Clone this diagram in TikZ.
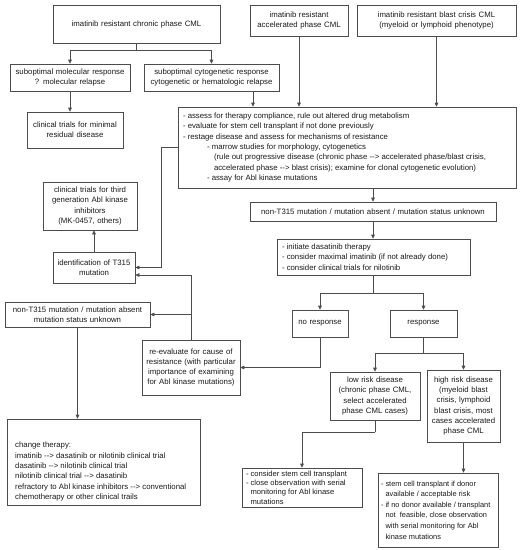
\documentclass[tikz,border=0pt]{standalone}
\usepackage{fontspec}
\setmainfont{Liberation Sans}
\usetikzlibrary{arrows.meta,calc}
\definecolor{lncol}{gray}{0.3}
\definecolor{txcol}{gray}{0.1}
\newcommand{\fsz}{\fontsize{7.8}{10.3}\selectfont}
\newcommand{\hg}{\hphantom{-~}}
\newcommand{\ar}{-{}-{}>}
\begin{document}
\begin{tikzpicture}[x=1pt,y=-1pt,
  bx/.style={draw=lncol, line width=0.6pt, inner xsep=3pt, inner ysep=0pt, font=\fsz, text=txcol, align=center},
  lbx/.style={bx, inner xsep=5pt, align=flush left},
  arr/.style={draw=lncol, line width=0.6pt, -{Triangle[length=4pt,width=3.6pt]}},
  cn/.style={draw=lncol, line width=0.6pt}]
\useasboundingbox (0,0) rectangle (520,550);

% top row
\node[bx, text width=161, minimum height=38] (chronic) at (136.5,24) {imatinib resistant chronic phase CML};
\node[bx, text width=92, minimum height=31] (accel) at (299,20.5) {imatinib resistant\\accelerated phase CML};
\node[bx, text width=153, minimum height=31] (blast) at (436.5,20.5) {imatinib resistant blast crisis CML\\(myeloid or lymphoid phenotype)};

\node[bx, text width=114, minimum height=27] (molec) at (70,77.5) {suboptimal molecular response\\? molecular relapse};
\node[bx, text width=129, minimum height=27] (cyto) at (211.5,77.5) {suboptimal cytogenetic response\\cytogenetic or hematologic relapse};
\node[bx, text width=90, minimum height=36] (minres) at (75,130) {clinical trials for minimal\\residual disease};

\node[lbx, text width=328, minimum height=81] (big) at (347,147.5) {- assess for therapy compliance, rule out altered drug metabolism\\
- evaluate for stem cell transplant if not done previously\\
- restage disease and assess for mechanisms of resistance\\
\hspace*{24pt}- marrow studies for morphology, cytogenetics\\
\hspace*{31pt}(rule out progressive disease (chronic phase \ar{} accelerated phase/blast crisis,\\
\hspace*{31pt}accelerated phase \ar{} blast crisis); examine for clonal cytogenetic evolution)\\
\hspace*{24pt}- assay for Abl kinase mutations};

\node[bx, text width=240, minimum height=19] (nonT) at (373,211.5) {non-T315 mutation / mutation absent / mutation status unknown};
\node[lbx, text width=183, minimum height=36] (dasat) at (373.5,257) {- initiate dasatinib therapy\\- consider maximal imatinib (if not already done)\\- consider clinical trials for nilotinib};

\node[bx, text width=50, minimum height=27] (noresp) at (320,323.5) {no response};
\node[bx, text width=61, minimum height=27] (resp) at (423.5,323.5) {response};

\node[bx, text width=88, minimum height=48] (third) at (90,206) {clinical trials for third\\generation Abl kinase\\inhibitors\\(MK-0457, others)};
\node[bx, text width=76, minimum height=31] (ident) at (94,267.5) {identification of T315\\mutation};
\node[bx, text width=139, minimum height=25] (nonTL) at (77.5,314.5) {non-T315 mutation / mutation absent\\mutation status unknown};
\node[bx, text width=92, minimum height=55] (reeval) at (191,367.5) {re-evaluate for cause of\\resistance (with particular\\importance of examining\\for Abl kinase mutations)};

\node[bx, text width=84, minimum height=48] (low) at (375,396) {low risk disease\\(chronic phase CML,\\select accelerated\\phase CML cases)};
\node[bx, text width=67, minimum height=72] (high) at (463.5,406) {high risk disease\\(myeloid blast\\crisis, lymphoid\\blast crisis, most\\cases accelerated\\phase CML};

\node[bx, minimum width=193, minimum height=86] (change) at (103.5,462) {};
\node[font=\fsz, text=txcol, align=flush left, inner sep=0pt, anchor=north west] (changet) at (15,442) {change therapy:\\
imatinib \ar{} dasatinib or nilotinib clinical trial\\
dasatinib \ar{} nilotinib clinical trial\\
nilotinib clinical trial \ar{} dasatinib\\
refractory to Abl kinase inhibitors \ar{} conventional\\
chemotherapy or other clinical trails};

\node[lbx, text width=112, inner xsep=4pt, minimum height=39, font=\fontsize{7.6}{9.3}\selectfont] (cons) at (302,487.5) {- consider stem cell transplant\\- close observation with serial\\\hg monitoring for Abl kinase\\\hg mutations};
\node[lbx, text width=114, inner xsep=3pt, minimum height=74, font=\fontsize{7.4}{10.6}\selectfont] (stem) at (438,510) {- stem cell transplant if donor\\\hg available / acceptable risk\\- if no donor available / transplant\\\hg not\ \ feasible, close observation\\\hg with serial monitoring for Abl\\\hg kinase mutations};

% connectors
\coordinate (j1) at ($(chronic.south)+(0,7)$);
\draw[cn] (chronic.south) -- (j1);
\draw[arr] (j1) -| (molec.north);
\draw[arr] (j1) -| (cyto.north);
\draw[arr] (molec.south) -- (molec.south |- minres.north);
\coordinate (cx) at (253,0);
\draw[arr] (cyto.south -| cx) -- (big.north -| cx);
\draw[arr] (accel.south) -- (accel.south |- big.north);
\draw[arr] (blast.south) -- (blast.south |- big.north);

\coordinate (bl) at ($(big.west)+(-16,0)$);
\draw[arr] (big.west) -- (bl) |- (ident.east);
\draw[arr] (nonT.north |- big.south) -- (nonT.north);
\draw[arr] (nonT.south) -- (nonT.south |- dasat.north);

\coordinate (j2) at ($(nonT.south |- dasat.south)+(0,18)$);
\draw[cn] (nonT.south |- dasat.south) -- (j2);
\draw[arr] (j2) -| (noresp.north);
\draw[arr] (j2) -| (resp.north);
\draw[arr] (noresp.south) |- (reeval.east);

\coordinate (ie2) at ($(ident.east)+(0,7.5)$);
\draw[arr] (reeval.north) |- (ie2);
\draw[arr] (reeval.north |- nonTL.east) -- (nonTL.east);
\draw[arr] (ident.north) -- (ident.north |- third.south);
\draw[arr] (nonTL.south) -- (nonTL.south |- change.north);

\coordinate (j3) at ($(resp.south)+(0,16)$);
\draw[cn] (resp.south) -- (j3);
\draw[arr] (j3) -| (low.north);
\draw[arr] (j3) -| (high.north);
\coordinate (j4) at ($(low.south)+(0,12)$);
\draw[cn] (low.south) -- (j4);
\draw[arr] (j4) -| (cons.north);
\draw[arr] (high.south) -- (high.south |- stem.north);
\end{tikzpicture}
\end{document}
